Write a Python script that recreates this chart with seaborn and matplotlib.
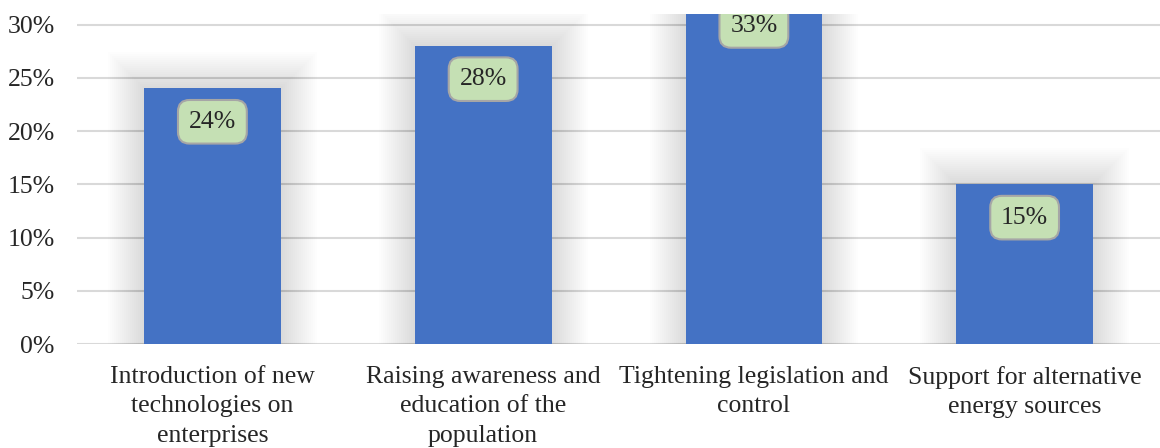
import matplotlib
matplotlib.use('Agg')
import matplotlib.pyplot as plt
import seaborn as sns
import pandas as pd
from matplotlib.patches import Rectangle
from matplotlib.ticker import FuncFormatter

categories = ['Introduction of new\ntechnologies on\nenterprises',
              'Raising awareness and\neducation of the\npopulation',
              'Tightening legislation and\ncontrol',
              'Support for alternative\nenergy sources']
values = [24, 28, 33, 15]
labels = ['24%', '28%', '33%', '15%']

df = pd.DataFrame({'cat': categories, 'val': values})

sns.set_style('white')
plt.rcParams['font.family'] = ['Liberation Serif', 'DejaVu Serif']

fig = plt.figure(figsize=(11.6, 4.48), dpi=100)
ax = fig.add_axes([0.0664, 0.232, 0.9336, 0.737])

sns.barplot(data=df, x='cat', y='val', color='#4472C4', width=0.505,
            saturation=1, ax=ax, zorder=3, linewidth=0)

ax.set_xlim(-0.5, 3.5)
ax.set_ylim(0, 31)

# soft shadow around the bars
px_x = 4 / (fig.get_figwidth() * fig.dpi * 0.9336)
px_y = 31 / (fig.get_figheight() * fig.dpi * 0.737)
for p in list(ax.patches):
    x0, w, h = p.get_x(), p.get_width(), p.get_height()
    for k in range(1, 19):
        d = k * 2
        ax.add_patch(Rectangle((x0 - d * px_x, 0), w + 2 * d * px_x, h + d * px_y,
                               facecolor='#000000', alpha=0.006, edgecolor='none',
                               zorder=1, clip_on=True))

# value labels in rounded boxes
for p, lab in zip(ax.patches[:len(values)], labels):
    cx = p.get_x() + p.get_width() / 2
    top = p.get_height()
    t = ax.annotate(lab, xy=(cx, top), xytext=(0, -24), textcoords='offset points',
                    ha='center', va='center', fontsize=18.5, color='#262626', zorder=5,
                    annotation_clip=False,
                    bbox=dict(boxstyle='round,pad=0.42,rounding_size=0.45',
                              facecolor='#C5E0B4', edgecolor='#A6A6A6', linewidth=1.5))
    t.set_clip_on(True)
    t.set_clip_box(ax.bbox)

ax.yaxis.set_major_locator(plt.MultipleLocator(5))
ax.yaxis.set_major_formatter(FuncFormatter(lambda v, pos: f'{int(v)}%'))
ax.grid(axis='y', color='#D9D9D9', linewidth=1.5, zorder=0)
ax.set_axisbelow(True)
for s in ax.spines.values():
    s.set_visible(False)
ax.set_xticks(range(len(categories)))
ax.set_xticklabels(categories, linespacing=1.45)
ax.tick_params(axis='both', length=0, labelsize=18.5, colors='#262626')
ax.tick_params(axis='y', pad=16)
ax.tick_params(axis='x', pad=15.5)
ax.set_xlabel('')
ax.set_ylabel('')

fig.savefig('out.png', dpi=100)
